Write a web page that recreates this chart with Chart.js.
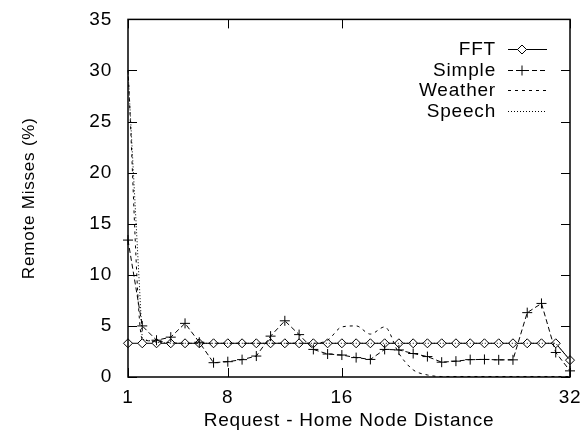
<!DOCTYPE html>
<html>
<head>
<meta charset="utf-8">
<script src="https://cdn.jsdelivr.net/npm/chart.js@4"></script>
<style>
  html, body { margin: 0; padding: 0; background: #fff; }
</style>
</head>
<body>
<canvas id="chart" width="584" height="431"></canvas>
<script>
const distance = [1, 2, 3, 4, 5, 6, 7, 8, 9, 10, 11, 12, 13, 14, 15, 16,
  17, 18, 19, 20, 21, 22, 23, 24, 25, 26, 27, 28, 29, 30, 31, 32];
const fft = [3.3, 3.3, 3.3, 3.3, 3.3, 3.3, 3.3, 3.3, 3.3, 3.3, 3.3, 3.3, 3.3, 3.3, 3.3, 3.3,
  3.3, 3.3, 3.3, 3.3, 3.3, 3.3, 3.3, 3.3, 3.3, 3.3, 3.3, 3.3, 3.3, 3.3, 3.3, 1.65];
const simple = [13.4, 5.0, 3.6, 3.9, 5.25, 3.4, 1.4, 1.5, 1.7, 2.05, 4.0, 5.5, 4.15, 2.7, 2.25, 2.15,
  1.9, 1.72, 2.7, 2.65, 2.3, 2.0, 1.45, 1.55, 1.7, 1.72, 1.68, 1.68, 6.3, 7.2, 2.4, 0.6];
const weather = [30.0, 3.7, 3.5, 3.35, 3.3, 3.3, 3.3, 3.3, 3.3, 3.3, 3.3, 3.3, 3.3, 3.3, 3.6, 4.9,
  5.0, 4.2, 4.9, 2.3, 0.7, 0.2, 0.05, 0.05, 0.05, 0.05, 0.05, 0.05, 0.05, 0.05, 0.05, 0.05];
const speech = [30.0, 3.7, 3.4, 3.3, 3.3, 3.3, 3.3, 3.3, 3.3, 3.3, 3.3, 3.3, 3.3, 3.3, 3.3, 3.3,
  3.3, 3.3, 3.3, 3.3, 3.3, 3.3, 3.3, 3.3, 3.3, 3.3, 3.3, 3.3, 3.3, 3.3, 3.3, 1.65];
const xTicks = [1, 8, 16, 32];
const yTicks = [0, 5, 10, 15, 20, 25, 30, 35];

const FONT = '"Liberation Sans", Arial, Helvetica, sans-serif';
Chart.defaults.font.family = FONT;
Chart.defaults.font.size = 19;
Chart.defaults.color = '#000';

function points(values) {
  return values.map((v, i) => ({ x: distance[i], y: v }));
}

function drawMarker(ctx, style, cx, cy, r) {
  ctx.save();
  ctx.setLineDash([]);
  ctx.beginPath();
  if (style === 'rectRot') {
    ctx.moveTo(cx - r, cy);
    ctx.lineTo(cx, cy - r);
    ctx.lineTo(cx + r, cy);
    ctx.lineTo(cx, cy + r);
    ctx.closePath();
    ctx.fillStyle = '#fff';
    ctx.fill();
  } else if (style === 'cross') {
    ctx.moveTo(cx - r, cy);
    ctx.lineTo(cx + r, cy);
    ctx.moveTo(cx, cy - r);
    ctx.lineTo(cx, cy + r);
  }
  ctx.stroke();
  ctx.restore();
}

// gnuplot-like frame: border, inward ticks on all sides, legend
const frame = {
  id: 'frame',
  beforeDraw(chart) {
    chart.ctx.letterSpacing = '0.8px';
  },
  afterDatasetsDraw(chart) {
    const { ctx, chartArea: a, scales: { x, y } } = chart;
    ctx.save();
    ctx.strokeStyle = '#000';
    ctx.lineWidth = 1.5;
    ctx.strokeRect(a.left, a.top, a.right - a.left, a.bottom - a.top);

    ctx.lineWidth = 1;
    ctx.beginPath();
    x.ticks.forEach(t => {
      const px = Math.round(x.getPixelForValue(t.value)) + 0.5;
      ctx.moveTo(px, a.bottom);
      ctx.lineTo(px, a.bottom - 9);
      ctx.moveTo(px, a.top);
      ctx.lineTo(px, a.top + 9);
    });
    y.ticks.forEach(t => {
      const py = Math.round(y.getPixelForValue(t.value)) + 0.5;
      ctx.moveTo(a.left, py);
      ctx.lineTo(a.left + 9, py);
      ctx.moveTo(a.right, py);
      ctx.lineTo(a.right - 9, py);
    });
    ctx.stroke();

    // legend, text on the left of each sample line
    ctx.font = '19px ' + FONT;
    ctx.textAlign = 'right';
    ctx.textBaseline = 'middle';
    chart.data.datasets.forEach((ds, i) => {
      const ry = Math.round(49 + i * 20.5) + 0.5;
      ctx.fillStyle = '#000';
      ctx.fillText(ds.label, 496, ry);
      ctx.strokeStyle = '#000';
      ctx.lineWidth = 1;
      ctx.setLineDash(ds.borderDash || []);
      ctx.beginPath();
      ctx.moveTo(508, ry);
      ctx.lineTo(547, ry);
      ctx.stroke();
      if (ds.pointRadius > 0) {
        drawMarker(ctx, ds.pointStyle, 522, ry, ds.pointRadius);
      }
    });
    ctx.restore();
  }
};

const base = {
  borderColor: '#000',
  borderWidth: 1,
  pointBorderColor: '#000',
  pointBackgroundColor: '#fff',
  pointBorderWidth: 1,
  fill: false,
  tension: 0,
  clip: false
};

new Chart(document.getElementById('chart'), {
  type: 'line',
  data: {
    datasets: [
      { ...base, label: 'FFT', data: points(fft), pointStyle: 'rectRot', pointRadius: 4.5, order: 4 },
      { ...base, label: 'Simple', data: points(simple), borderDash: [5, 3], pointStyle: 'cross', pointRadius: 5, order: 3 },
      { ...base, label: 'Weather', data: points(weather), borderDash: [3, 4], pointRadius: 0, cubicInterpolationMode: 'monotone', order: 2 },
      { ...base, label: 'Speech', data: points(speech), borderDash: [1, 2], pointRadius: 0, order: 1 }
    ]
  },
  options: {
    responsive: false,
    animation: false,
    layout: { padding: { left: 0, top: 18, right: 14, bottom: 0 } },
    plugins: {
      legend: { display: false },
      tooltip: { enabled: false }
    },
    scales: {
      x: {
        type: 'linear',
        min: 1,
        max: 32,
        grid: { display: false },
        border: { display: false },
        afterBuildTicks: scale => { scale.ticks = xTicks.map(v => ({ value: v })); },
        afterFit: scale => { scale.height = 54; },
        ticks: { autoSkip: false, maxRotation: 0, padding: 1 },
        title: { display: true, text: 'Request - Home Node Distance', padding: { top: 0, bottom: -1 } }
      },
      y: {
        min: 0,
        max: 35,
        grid: { display: false },
        border: { display: false },
        afterBuildTicks: scale => { scale.ticks = yTicks.map(v => ({ value: v })); },
        afterFit: scale => { scale.width = 128; },
        ticks: { padding: 8 },
        title: { display: true, text: 'Remote Misses (%)', font: { size: 17 }, padding: { top: 19, bottom: 0 } }
      }
    }
  },
  plugins: [frame]
});
</script>
</body>
</html>
